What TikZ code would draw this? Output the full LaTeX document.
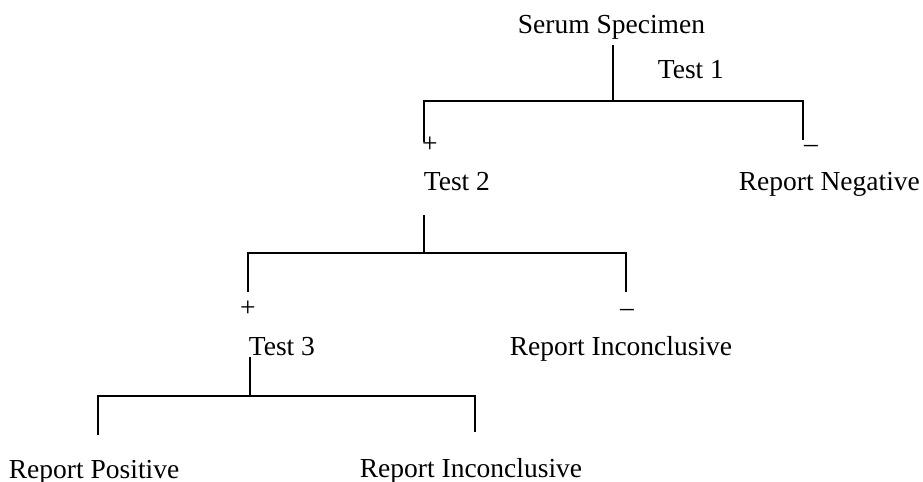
\documentclass[tikz,border=0pt]{standalone}
\usepackage{fontspec}
\setmainfont{Liberation Serif}
\usetikzlibrary{positioning}

\begin{document}
\begin{tikzpicture}[x=0.5pt, y=-0.5pt, line width=0.9pt,
  every node/.style={inner sep=0pt, font=\fontsize{13.75}{16}\selectfont},
  lbl/.style={anchor=base west},
  sign/.style={anchor=base}]
  \useasboundingbox (0,0) rectangle (923,482);

  % Labels
  \node[lbl] (serum) at (517,33) {Serum Specimen};
  \node[lbl] (test1) at (657,78) {Test 1};
  \node[lbl] (test2) at (423,191) {Test 2};
  \node[lbl] (neg) at (738,191) {Report Negative};
  \node[lbl] (test3) at (248,355) {Test 3};
  \node[lbl] (inc1) at (509,355) {Report Inconclusive};
  \node[lbl] (pos) at (8,478) {Report Positive};
  \node[lbl] (inc2) at (359,477) {Report Inconclusive};

  % Signs
  \node[sign] (plus1) at (430,152) {+};
  \node[sign] (minus1) at (811,152) {–};
  \node[sign] (plus2) at (248,316) {+};
  \node[sign] (minus2) at (627,316) {–};

  % Branch points
  \coordinate (root1) at (613,45);
  \coordinate (fork1) at (613,101);
  \coordinate (yes1) at (424,142);
  \coordinate (no1) at (803,140);

  \coordinate (root2) at (424,215);
  \coordinate (fork2) at (424,253);
  \coordinate (yes2) at (248,292);
  \coordinate (no2) at (626,292);

  \coordinate (root3) at (250,357);
  \coordinate (fork3) at (250,396);
  \coordinate (yes3) at (98,435);
  \coordinate (no3) at (475,432);

  % Draw branches
  \draw (root1) -- (fork1);
  \draw (yes1) |- (fork1) -| (no1);
  \draw (root2) -- (fork2);
  \draw (yes2) |- (fork2) -| (no2);
  \draw (root3) -- (fork3);
  \draw (yes3) |- (fork3) -| (no3);

\end{tikzpicture}
\end{document}
